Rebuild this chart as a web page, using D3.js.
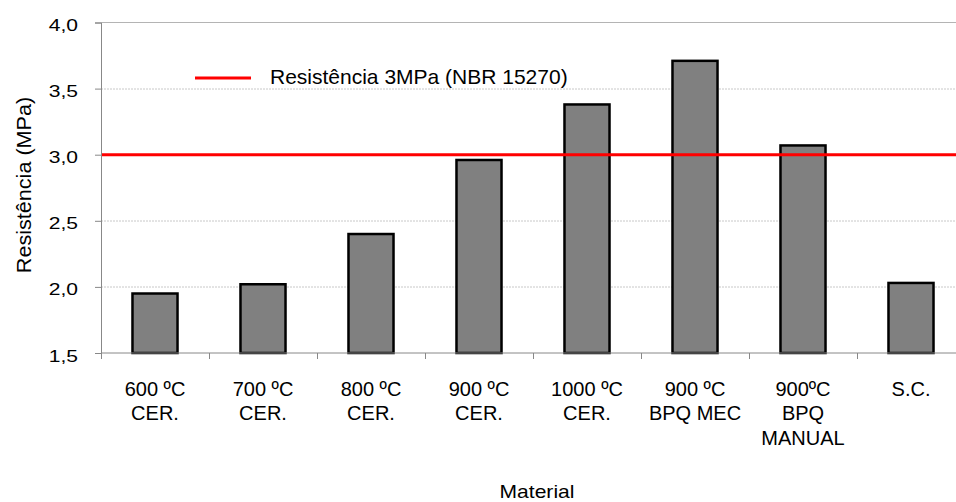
<!DOCTYPE html>
<html>
<head>
<meta charset="utf-8">
<script src="https://cdn.jsdelivr.net/npm/d3@7"></script>
<style>
  body { margin: 0; background: #fff; }
  svg { display: block; font-family: "Liberation Sans", Arial, sans-serif; }
</style>
</head>
<body>
<div id="chart"></div>
<script>
var categories = [
  ["600 ºC", "CER."],
  ["700 ºC", "CER."],
  ["800 ºC", "CER."],
  ["900 ºC", "CER."],
  ["1000 ºC", "CER."],
  ["900 ºC", "BPQ MEC"],
  ["900ºC", "BPQ", "MANUAL"],
  ["S.C."]
]
var values = [1.95, 2.02, 2.40, 2.96, 3.38, 3.71, 3.07, 2.03]
var yTicks = [1.5, 2.0, 2.5, 3.0, 3.5, 4.0]
var limitValue = 3.0
var limitLabel = "Resistência 3MPa (NBR 15270)"

var W = 956, H = 502
var margin = {top: 22.5, left: 101}
var plotW = 864, plotH = 330.5

var svg = d3.select("#chart").append("svg")
  .attr("width", W).attr("height", H)

var x = d3.scaleBand()
  .domain(d3.range(categories.length))
  .range([0, plotW])
  .paddingInner(0.583).paddingOuter(0.2915)

var y = d3.scaleLinear().domain([1.5, 4.0]).range([plotH, 0])

var g = svg.append("g")
  .attr("transform", "translate(" + margin.left + "," + margin.top + ")")

// gridlines
g.selectAll(".grid").data(yTicks.slice(1, -1)).enter().append("line")
  .attr("x1", 0).attr("x2", plotW)
  .attr("y1", function(d) { return Math.round(y(d)) + 0.5 })
  .attr("y2", function(d) { return Math.round(y(d)) + 0.5 })
  .attr("stroke", "#c8c8c8").attr("stroke-dasharray", "2,1")
g.append("line")
  .attr("x1", 0).attr("x2", plotW).attr("y1", y(4.0)).attr("y2", y(4.0))
  .attr("stroke", "#b4b4b4")

// bars
g.selectAll(".bar").data(values).enter().append("rect")
  .attr("x", function(d, i) { return x(i) })
  .attr("y", function(d) { return y(d) })
  .attr("width", x.bandwidth())
  .attr("height", function(d) { return plotH - y(d) })
  .attr("fill", "#808080")
  .attr("stroke", "#000").attr("stroke-width", 2.5)

// limit line
g.append("line")
  .attr("x1", 0).attr("x2", plotW)
  .attr("y1", y(limitValue)).attr("y2", y(limitValue))
  .attr("stroke", "#ff0000").attr("stroke-width", 3)

// y axis (lines from d3, labels drawn below so they can be stretched)
var yAxis = g.append("g")
  .call(d3.axisLeft(y).tickValues(yTicks).tickSize(6).tickFormat(""))
yAxis.select(".domain").attr("stroke", "#888")
yAxis.selectAll(".tick line").attr("stroke", "#888")

g.selectAll(".ylab").data(yTicks).enter().append("text")
  .attr("text-anchor", "end").attr("font-size", 17).attr("fill", "#000")
  .attr("transform", function(d) {
    return "translate(-23," + (y(d) + 8.5) + ")scale(1.24,1)"
  })
  .text(function(d) { return d3.format(".1f")(d).replace(".", ",") })

// x axis
var xg = g.append("g").attr("transform", "translate(0," + plotH + ")")
xg.append("line").attr("x1", 0).attr("x2", plotW).attr("stroke", "#888")
xg.selectAll(".xt").data(d3.range(categories.length + 1)).enter().append("line")
  .attr("x1", function(i) { return Math.round(i * x.step()) + 0.5 })
  .attr("x2", function(i) { return Math.round(i * x.step()) + 0.5 })
  .attr("y1", 0).attr("y2", 6).attr("stroke", "#888")

xg.selectAll(".xl").data(categories).enter().append("text")
  .attr("text-anchor", "middle")
  .attr("font-size", 20).attr("fill", "#000")
  .attr("transform", function(d, i) {
    return "translate(" + (x(i) + x.bandwidth() / 2) + ",43)"
  })
  .each(function(d) {
    var t = d3.select(this)
    d.forEach(function(line, k) {
      t.append("tspan").attr("x", 0).attr("y", k * 24.3).text(line)
    })
  })

// axis titles
svg.append("text")
  .attr("text-anchor", "middle").attr("font-size", 18)
  .attr("transform", "translate(537,498)scale(1.17,1)")
  .text("Material")

svg.append("text")
  .attr("text-anchor", "middle").attr("font-size", 20)
  .attr("transform", "translate(31,185)rotate(-90)scale(1.08,1)")
  .text("Resistência (MPa)")

// legend
svg.append("line")
  .attr("x1", 195).attr("x2", 251).attr("y1", 78).attr("y2", 78)
  .attr("stroke", "#ff0000").attr("stroke-width", 3)
svg.append("text")
  .attr("x", 270).attr("y", 83.5).attr("font-size", 21)
  .text(limitLabel)
</script>
</body>
</html>
